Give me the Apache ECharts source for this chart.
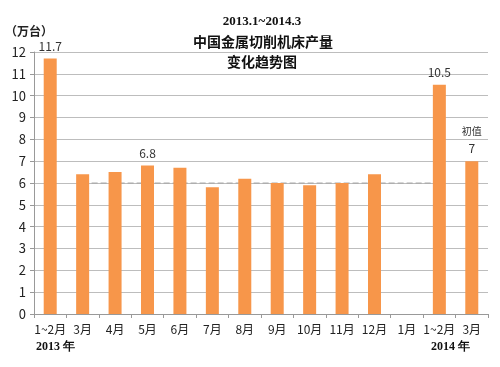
<!DOCTYPE html>
<html><head><meta charset="utf-8">
<script src="https://cdn.jsdelivr.net/npm/echarts@6/dist/echarts.min.js"></script>
<style>html,body{margin:0;padding:0;background:#fff}#c{width:500px;height:367px}</style>
</head><body><div id="c"></div>
<script>
const categories = ['1~2月','3月','4月','5月','6月','7月','8月','9月','10月','11月','12月','1月','1~2月','3月'];
const production = [11.7, 6.4, 6.5, 6.8, 6.7, 5.8, 6.2, 6.0, 5.9, 6.0, 6.4, null, 10.5, 7.0];
const labelled = {0: '11.7', 3: '6.8', 12: '10.5', 13: '{s|初值}\n7'};
const yTicks = [0,1,2,3,4,5,6,7,8,9,10,11,12];

const chart = echarts.init(document.getElementById('c'), null, {renderer:'canvas'});
const sans = '"Noto Sans CJK SC", "Noto Sans", sans-serif';
chart.setOption({
  animation: false,
  backgroundColor: '#fff',
  grid: {left: 34, right: 12, top: 52, bottom: 53},
  xAxis: {
    type: 'category', data: categories, boundaryGap: true,
    axisLine: {lineStyle: {color: '#999'}},
    axisTick: {show: true, length: 4, lineStyle: {color: '#999'}},
    axisLabel: {color: '#222', fontSize: 12, fontFamily: sans, margin: 9, interval: 0}
  },
  yAxis: {
    type: 'value', min: 0, max: 12, interval: 1,
    axisLine: {show: true, lineStyle: {color: '#999'}},
    axisTick: {show: true, length: 4, lineStyle: {color: '#999'}},
    axisLabel: {color: '#222', fontSize: 13, fontFamily: sans, margin: 8,
      formatter: v => yTicks.includes(v) ? String(v) : ''},
    splitLine: {lineStyle: {color: '#bdbdbd', width: 1}}
  },
  series: [{
    type: 'bar', barWidth: 13,
    data: production.map((v, i) => ({
      value: v,
      label: labelled[i] ? {show: true, formatter: labelled[i]} : {show: false}
    })),
    itemStyle: {color: '#F7964A'},
    label: {position: 'top', distance: 4, color: '#333', fontSize: 12, fontFamily: sans, align: 'center', lineHeight: 17,
      rich: {s: {fontSize: 10, color: '#333', fontFamily: sans, lineHeight: 17}}},
    markLine: {
      silent: true, symbol: 'none', label: {show: false}, z: 0,
      lineStyle: {color: '#999', type: 'dashed', width: 1.5, opacity: 0.55},
      data: [[{coord: [0.6, 6]}, {coord: [12, 6]}]]
    }
  }],
  graphic: [
    {type: 'text', left: 5, top: 25, style: {text: '（万台）', font: 'bold 12px ' + sans, fill: '#222'}},
    {type: 'text', x: 262, y: 22, style: {text: '2013.1~2014.3', font: 'bold 13px "Liberation Serif", serif', fill: '#111', align: 'center', verticalAlign: 'middle'}},
    {type: 'text', x: 263, y: 42, style: {text: '中国金属切削机床产量', font: 'bold 14px ' + sans, fill: '#111', align: 'center', verticalAlign: 'middle'}},
    {type: 'text', x: 262, y: 62, style: {text: '变化趋势图', font: 'bold 14px ' + sans, fill: '#111', align: 'center', verticalAlign: 'middle'}},
    {type: 'text', x: 36, y: 347, style: {text: '2013 年', font: 'bold 12px "Liberation Serif", serif', fill: '#111', verticalAlign: 'middle'}},
    {type: 'text', x: 431, y: 347, style: {text: '2014 年', font: 'bold 12px "Liberation Serif", serif', fill: '#111', verticalAlign: 'middle'}}
  ]
});
</script></body></html>
